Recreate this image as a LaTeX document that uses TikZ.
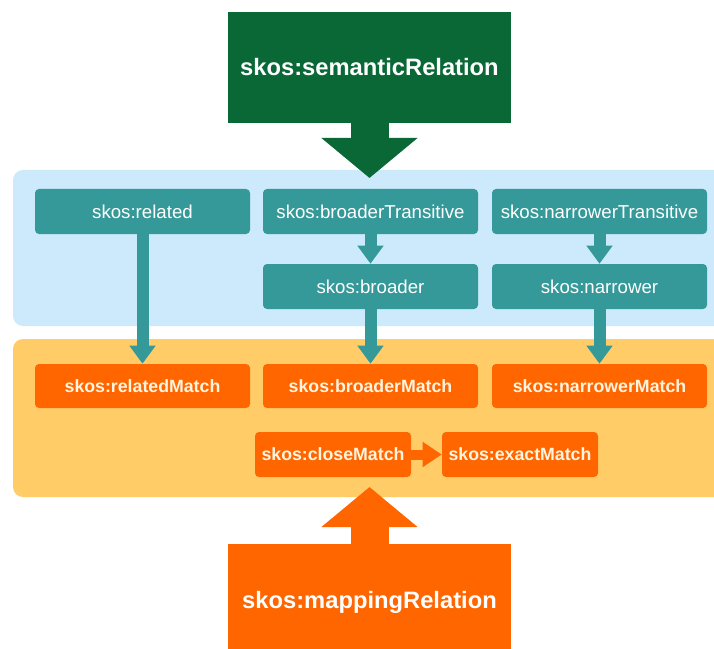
\documentclass[tikz,border=0pt]{standalone}
\usepackage{fontspec}
\setmainfont{Liberation Sans}
\usetikzlibrary{arrows.meta}

\definecolor{semgreen}{RGB}{10,104,54}
\definecolor{paleblue}{RGB}{204,234,251}
\definecolor{tealbox}{RGB}{52,153,152}
\definecolor{maporange}{RGB}{255,102,0}
\definecolor{paleorange}{RGB}{255,204,104}
\definecolor{creamtext}{RGB}{255,244,222}

\tikzset{
  bigbox/.style={inner sep=0pt, text=white, font=\bfseries\fontsize{17.8}{20}\selectfont,
    minimum width=212.25pt},
  panel/.style={rounded corners=7.5pt},
  skosbox/.style={fill=tealbox, rounded corners=3pt, inner sep=0pt, text=white,
    font=\fontsize{14}{16}\selectfont, minimum width=161.25pt, minimum height=33.75pt},
  matchbox/.style={fill=maporange, rounded corners=3pt, inner sep=0pt, text=creamtext,
    font=\bfseries\fontsize{13.3}{15}\selectfont, minimum width=161.25pt, minimum height=33pt},
  smallmatch/.style={matchbox, minimum width=117pt, minimum height=33.75pt},
  tealarrow/.style={draw=tealbox, line width=9pt, -{Triangle[width=18.75pt,length=13.5pt]}},
  orangearrow/.style={draw=maporange, line width=7.5pt, -{Triangle[width=18pt,length=14.25pt]}},
  blockarrow/.style={line width=28.5pt, -{Triangle[width=70.5pt,length=30pt]}},
}

\begin{document}
\begin{tikzpicture}[x=0.75pt,y=-0.75pt]
  \useasboundingbox (0,0) rectangle (714,649);
  \fill[white] (0,0) rectangle (714,649);

  % background bands
  \fill[paleblue, panel] (13,170) rectangle (740,326);
  \fill[paleorange, panel] (13,339) rectangle (740,497);

  % top and bottom relation boxes
  \node[bigbox, fill=semgreen, minimum height=83.25pt] (sem) at (369.5,67.5) {skos:semanticRelation};
  \node[bigbox, fill=maporange, minimum height=87pt] (map) at (369.5,602) {skos:mappingRelation};
  \coordinate (semtip) at (369.5,178);
  \coordinate (maptip) at (369.5,487);
  \draw[semgreen, blockarrow] (sem.south) -- (semtip);
  \draw[maporange, blockarrow] (map.north) -- (maptip);

  % semantic relations
  \node[skosbox] (rel) at (142.5,211.5) {skos:related};
  \node[skosbox] (bt)  at (370.5,211.5) {skos:broaderTransitive};
  \node[skosbox] (nt)  at (599.5,211.5) {skos:narrowerTransitive};
  \node[skosbox] (br)  at (370.5,286.5) {skos:broader};
  \node[skosbox] (nr)  at (599.5,286.5) {skos:narrower};

  % mapping relations
  \node[matchbox] (relm) at (142.5,386) {skos:relatedMatch};
  \node[matchbox] (brm)  at (370.5,386) {skos:broaderMatch};
  \node[matchbox] (nrm)  at (599.5,386) {skos:narrowerMatch};
  \node[smallmatch] (close) at (333,454.5) {skos:closeMatch};
  \node[smallmatch] (exact) at (520,454.5) {skos:exactMatch};

  % connectors
  \draw[tealarrow] (bt.south) -- (br.north);
  \draw[tealarrow] (nt.south) -- (nr.north);
  \draw[tealarrow] (rel.south) -- (relm.north);
  \draw[tealarrow] (br.south) -- (brm.north);
  \draw[tealarrow] (nr.south) -- (nrm.north);
  \draw[orangearrow] (close.east) -- (exact.west);
\end{tikzpicture}
\end{document}
